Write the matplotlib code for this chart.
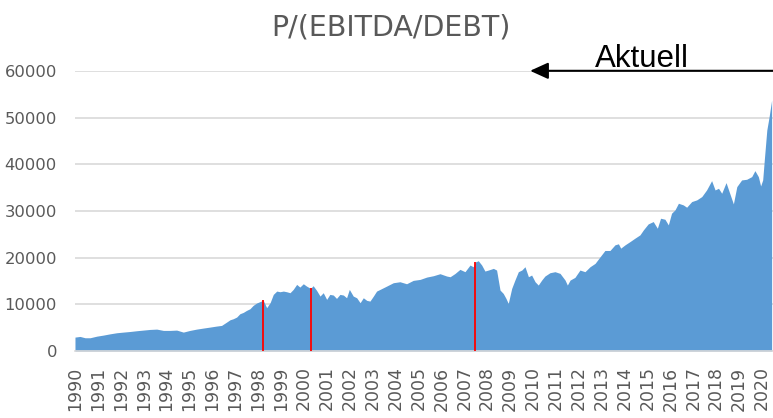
import matplotlib
matplotlib.use("Agg")
import matplotlib.pyplot as plt
import numpy as np

# readings: decimal year and P/(EBITDA/DEBT)
years = [1990.00, 1990.22, 1990.44, 1990.66, 1990.95, 1991.24, 1991.53, 1991.82,
         1992.11, 1992.40, 1992.69, 1992.98, 1993.28, 1993.57, 1993.86, 1994.15,
         1994.44, 1994.73, 1995.02, 1995.31, 1995.60, 1995.89, 1996.18, 1996.40,
         1996.62, 1996.77, 1996.91, 1997.06, 1997.20, 1997.35, 1997.49, 1997.64,
         1997.78, 1997.93, 1998.08, 1998.22, 1998.37, 1998.52, 1998.66, 1998.81,
         1998.95, 1999.10, 1999.24, 1999.39, 1999.53, 1999.68, 1999.82, 1999.97,
         2000.11, 2000.29, 2000.40, 2000.55, 2000.70, 2000.84, 2000.99, 2001.13,
         2001.28, 2001.42, 2001.57, 2001.72, 2001.86, 2001.98, 2002.15, 2002.30,
         2002.45, 2002.59, 2002.74, 2002.88, 2003.03, 2003.17, 2003.32, 2003.61,
         2003.90, 2004.19, 2004.48, 2004.77, 2005.07, 2005.36, 2005.65, 2005.94,
         2006.23, 2006.38, 2006.59, 2006.81, 2007.03, 2007.25, 2007.39, 2007.48,
         2007.61, 2007.76, 2007.90, 2008.05, 2008.27, 2008.41, 2008.56, 2008.70,
         2008.82, 2008.92, 2009.07, 2009.21, 2009.36, 2009.51, 2009.65, 2009.80,
         2009.94, 2010.09, 2010.23, 2010.38, 2010.52, 2010.74, 2010.96, 2011.18,
         2011.40, 2011.50, 2011.62, 2011.83, 2012.05, 2012.27, 2012.49, 2012.71,
         2012.93, 2013.14, 2013.36, 2013.58, 2013.73, 2013.83, 2014.02, 2014.24,
         2014.45, 2014.67, 2014.82, 2015.03, 2015.25, 2015.43, 2015.57, 2015.76,
         2015.91, 2016.05, 2016.20, 2016.35, 2016.56, 2016.71, 2016.93, 2017.15,
         2017.37, 2017.58, 2017.80, 2017.95, 2018.10, 2018.24, 2018.43, 2018.60,
         2018.75, 2018.90, 2019.11, 2019.33, 2019.55, 2019.69, 2019.84, 2019.94,
         2020.03, 2020.10, 2020.21, 2020.31, 2020.42]
values = [3000, 3140, 2860, 2860, 3200, 3430, 3700, 3930,
          4070, 4200, 4360, 4500, 4640, 4710, 4430, 4430,
          4500, 4070, 4430, 4710, 4930, 5140, 5360, 5500,
          6210, 6710, 6930, 7290, 8000, 8290, 8710, 9070,
          9790, 10290, 10600, 10860, 9290, 10360, 12140, 12850,
          12710, 12850, 12710, 12500, 13210, 14280, 13710, 14420,
          13920, 13420, 14000, 13000, 11780, 12500, 11070, 12140,
          12000, 11280, 12140, 12000, 11420, 13210, 11780, 11420,
          10360, 11420, 10860, 10710, 11780, 12850, 13210, 13920,
          14640, 14850, 14420, 15140, 15350, 15850, 16140, 16570,
          16070, 15920, 16600, 17500, 17000, 18420, 18060, 19070,
          19350, 18420, 17140, 17350, 17710, 17350, 13070, 12350,
          11280, 10210, 13420, 15210, 17000, 17350, 18060, 15920,
          16280, 14850, 14140, 15210, 16070, 16780, 17000, 16640,
          15210, 14140, 15210, 15780, 17350, 17000, 18060, 18780,
          20200, 21540, 21540, 22750, 22970, 22040, 22750, 23460,
          24170, 24880, 25950, 27230, 27730, 26300, 28440, 28230,
          27020, 29520, 30230, 31650, 31300, 30800, 32010, 32370,
          33080, 34500, 36490, 34500, 34850, 33790, 36070, 33640,
          31510, 35210, 36640, 36780, 37350, 38630, 37350, 35350,
          36640, 40910, 47320, 50160, 53720]

# red markers
event_years = [1998.22, 2000.29, 2007.48]
event_values = [10860, 13420, 19070]

tick_years = list(range(1990, 2021))
tick_labels = [str(y) for y in tick_years]

blue = "#5B9BD5"
grey = "#595959"
grid = "#D9D9D9"

fig = plt.figure(figsize=(7.73, 4.18), dpi=100)
ax = fig.add_axes([0.097, 0.160, 0.903, 0.6706])

ax.fill_between(years, values, 0, color=blue, linewidth=0, zorder=2)
ax.vlines(event_years, 0, event_values, color="#FF0000", linewidth=1.3, zorder=3)

ax.set_xlim(1990, 2020.48)
ax.set_ylim(0, 60000)
ax.set_yticks(np.arange(0, 60001, 10000))
ax.set_xticks(tick_years)
ax.set_xticklabels(tick_labels, rotation=90)

ax.tick_params(axis="y", length=0, pad=13, labelsize=11.8, labelcolor=grey)
ax.tick_params(axis="x", length=0, pad=11, labelsize=12.5, labelcolor=grey)
ax.grid(axis="y", color=grid, linewidth=1.2, zorder=0)
ax.set_axisbelow(True)
for s in ["top", "right", "left"]:
    ax.spines[s].set_visible(False)
ax.spines["bottom"].set_color(grid)
ax.spines["bottom"].set_linewidth(1.2)

fig.text(0.506, 0.935, "P/(EBITDA/DEBT)", ha="center", va="center",
         fontsize=20.5, color=grey)

ax.annotate("", xy=(0.652, 1.0), xytext=(1.0, 1.0),
            xycoords="axes fraction", textcoords="axes fraction",
            arrowprops=dict(arrowstyle="-|>,head_length=1.1,head_width=0.5",
                            color="black", lw=1.5, shrinkA=0, shrinkB=0,
                            mutation_scale=10),
            annotation_clip=False)
ax.text(0.8116, 1.013, "Aktuell", transform=ax.transAxes, ha="center",
        va="baseline", fontsize=22.5, family="Liberation Sans", color="black")

fig.savefig("out.png", dpi=100)
